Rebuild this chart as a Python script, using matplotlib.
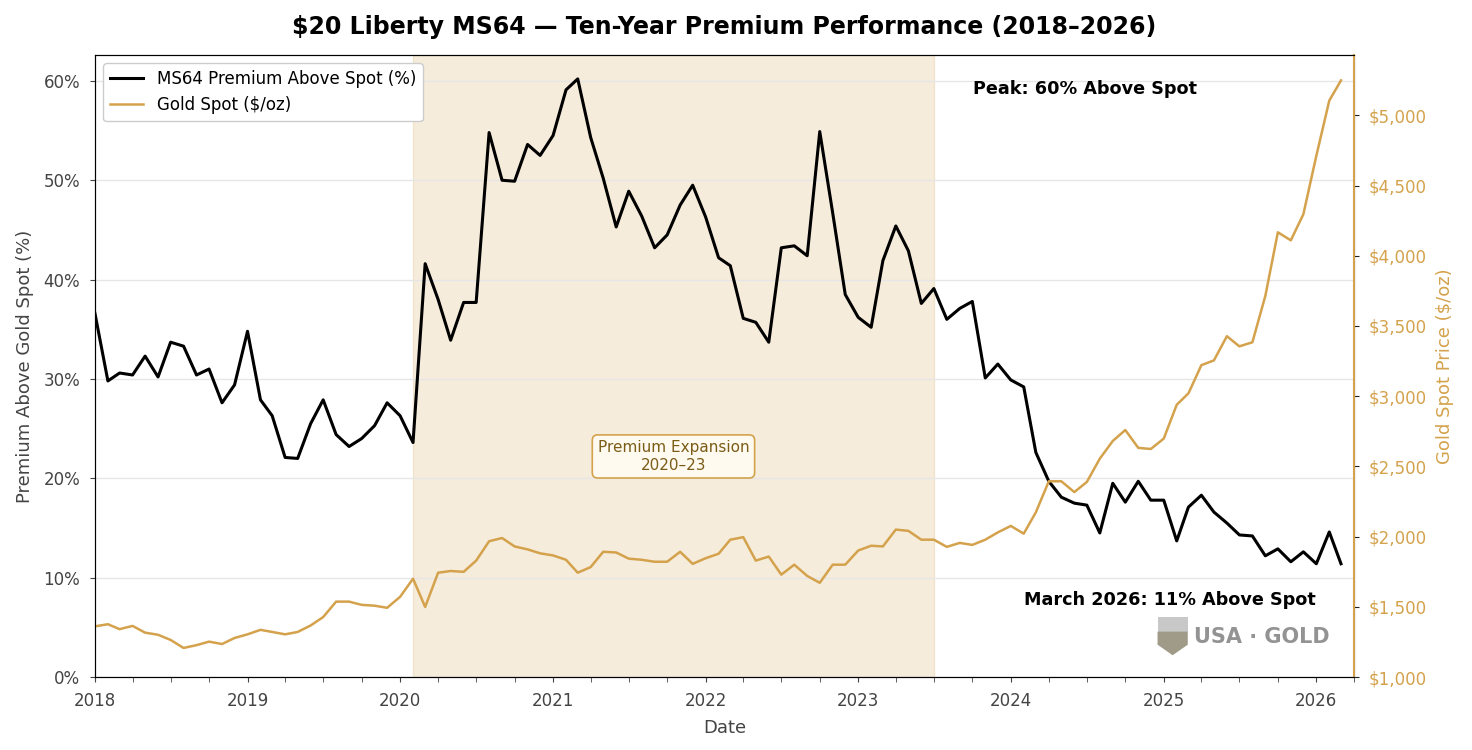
import numpy as np
import pandas as pd
import matplotlib
matplotlib.use("Agg")
import matplotlib.pyplot as plt
import matplotlib.dates as mdates
from matplotlib.patches import Rectangle, Polygon
from matplotlib.ticker import FuncFormatter

# monthly data, Jan 2018 - Mar 2026
dates = pd.date_range("2018-01-01", periods=99, freq="MS")

premium = [
    36.6, 29.8, 30.6, 30.4, 32.3, 30.2, 33.7, 33.3, 30.4, 31.0, 27.6, 29.4,
    34.8, 27.9, 26.3, 22.1, 22.0, 25.5, 27.9, 24.4, 23.2, 24.0, 25.3, 27.6,
    26.3, 23.6, 41.6, 38.0, 33.9, 37.7, 37.7, 54.8, 50.0, 49.9, 53.6, 52.5,
    54.5, 59.1, 60.2, 54.3, 50.2, 45.3, 48.9, 46.4, 43.2, 44.5, 47.5, 49.5,
    46.3, 42.2, 41.4, 36.1, 35.7, 33.7, 43.2, 43.4, 42.4, 54.9, 46.7, 38.5,
    36.2, 35.2, 41.9, 45.4, 42.9, 37.6, 39.1, 36.0, 37.1, 37.8, 30.1, 31.5,
    29.9, 29.2, 22.6, 19.7, 18.1, 17.5, 17.3, 14.5, 19.5, 17.6, 19.7, 17.8,
    17.8, 13.7, 17.1, 18.3, 16.6, 15.5, 14.3, 14.2, 12.2, 12.9, 11.6, 12.6,
    11.4, 14.6, 11.4,
]

gold = [
    1361, 1376, 1341, 1364, 1316, 1301, 1264, 1207, 1227, 1252, 1235, 1278,
    1304, 1336, 1321, 1304, 1321, 1367, 1427, 1537, 1537, 1514, 1508, 1493,
    1571, 1700, 1499, 1743, 1755, 1749, 1829, 1967, 1990, 1930, 1909, 1881,
    1866, 1835, 1743, 1783, 1892, 1887, 1843, 1835, 1821, 1821, 1892, 1806,
    1846, 1878, 1978, 1996, 1829, 1858, 1729, 1800, 1720, 1671, 1800, 1800,
    1901, 1935, 1930, 2050, 2041, 1978, 1978, 1927, 1955, 1941, 1978, 2030,
    2076, 2021, 2173, 2394, 2394, 2317, 2389, 2555, 2681, 2759, 2632, 2624,
    2698, 2939, 3020, 3221, 3255, 3427, 3355, 3384, 3714, 4167, 4110, 4296,
    4712, 5105, 5249,
]

span_start = pd.Timestamp("2020-02-01")
span_end = pd.Timestamp("2023-07-01")

GOLD = "#D4A24C"
TXT = "#444444"

fig = plt.figure(figsize=(14.72, 7.5), dpi=100)
ax = fig.add_axes([0.0645, 0.0973, 0.8553, 0.8294])
ax2 = ax.twinx()

# shaded period
ax.axvspan(span_start, span_end, color=GOLD, alpha=0.2, zorder=0)

l1, = ax.plot(dates, premium, color="black", lw=2.2, label="MS64 Premium Above Spot (%)", zorder=3)
l2, = ax2.plot(dates, gold, color=GOLD, lw=1.8, label="Gold Spot ($/oz)", zorder=2)

ax.set_xlim(pd.Timestamp("2018-01-01"), pd.Timestamp("2026-04-01"))
ax.set_ylim(0, max(premium) * 1.04)
ax2.set_ylim(1000, 5430)

ax.set_yticks(np.arange(0, 61, 10))
ax.yaxis.set_major_formatter(FuncFormatter(lambda v, p: f"{v:.0f}%"))
ax2.set_yticks(np.arange(1000, 5001, 500))
ax2.yaxis.set_major_formatter(FuncFormatter(lambda v, p: f"${v:,.0f}"))

ax.xaxis.set_major_locator(mdates.YearLocator())
ax.xaxis.set_major_formatter(mdates.DateFormatter("%Y"))
ax.xaxis.set_minor_locator(mdates.MonthLocator(bymonth=[4, 7, 10]))

ax.grid(axis="y", color="#e6e6e6", lw=1, zorder=0)
ax.set_axisbelow(True)

ax.tick_params(axis="both", labelsize=12, colors=TXT, pad=7)
ax.tick_params(axis="x", which="minor", length=3.5, color=TXT)
ax2.tick_params(axis="y", labelsize=12, colors=GOLD, pad=7)
for s in ax.spines.values():
    s.set_color("#222222")
ax2.spines["right"].set_color(GOLD)
ax2.spines["right"].set_linewidth(1.5)
ax2.tick_params(axis="y", color="#222222")

ax.set_xlabel("Date", fontsize=13, color=TXT, labelpad=7)
ax.set_ylabel("Premium Above Gold Spot (%)", fontsize=13, color=TXT, labelpad=7)
ax2.set_ylabel("Gold Spot Price ($/oz)", fontsize=13, color=GOLD, labelpad=7)

ax.set_title("$20 Liberty MS64 — Ten-Year Premium Performance (2018–2026)",
             fontsize=17, fontweight="bold", pad=15)

leg = ax2.legend([l1, l2], [l1.get_label(), l2.get_label()], loc="upper left",
                 fontsize=12, framealpha=1, edgecolor="#cccccc")

# annotations
mid = span_start + (span_end - span_start) / 2
ax.text(mid, 22.2, "Premium Expansion\n2020–23", ha="center", va="center",
        fontsize=11, color="#7a5c16", zorder=5,
        bbox=dict(boxstyle="round,pad=0.35", fc="#FFFAF0", ec=GOLD, lw=1.2))
ax.text(0.786, 0.946, "Peak: 60% Above Spot", transform=ax.transAxes,
        ha="center", va="center", fontsize=12.7, fontweight="bold", zorder=5)
ax.text(0.854, 0.124, "March 2026: 11% Above Spot", transform=ax.transAxes,
        ha="center", va="center", fontsize=12.7, fontweight="bold", zorder=5)

# USA GOLD watermark
ax.add_patch(Rectangle((0.844, 0.073), 0.024, 0.023, transform=ax.transAxes,
                       fc="#c8c8c8", ec="none", zorder=4))
ax.add_patch(Polygon([(0.844, 0.073), (0.868, 0.073), (0.868, 0.052),
                      (0.856, 0.035), (0.844, 0.052)], closed=True,
                     transform=ax.transAxes, fc="#a09a88", ec="none", zorder=4))
ax.text(0.927, 0.064, "USA · GOLD", transform=ax.transAxes, ha="center",
        va="center", fontsize=15, fontweight="bold", color="#939393", zorder=4)

fig.savefig("out.png", dpi=100)
